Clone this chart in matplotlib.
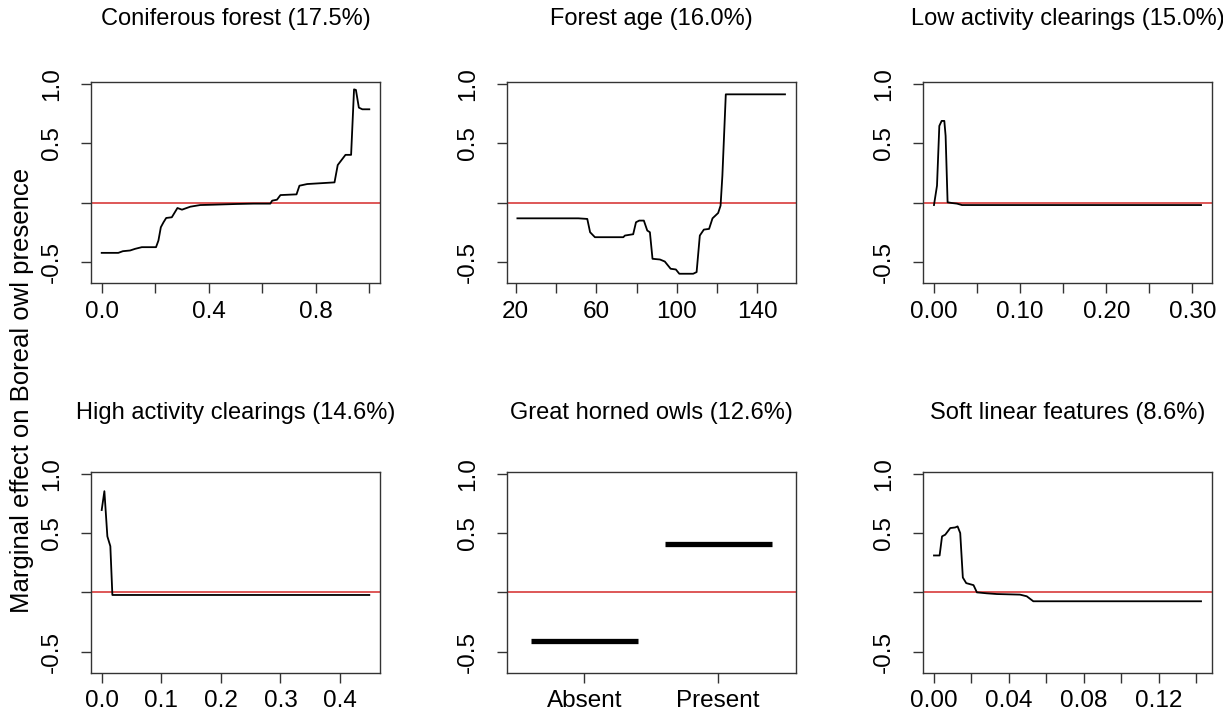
import matplotlib
matplotlib.use("Agg")
import matplotlib.pyplot as plt

# Partial dependence of Boreal owl presence on each predictor
titles = [
    "Coniferous forest (17.5%)",
    "Forest age (16.0%)",
    "Low activity clearings (15.0%)",
    "High activity clearings (14.6%)",
    "Great horned owls (12.6%)",
    "Soft linear features (8.6%)",
]

conif_x = [0.000, 0.062, 0.079, 0.106, 0.125, 0.150, 0.203, 0.212, 0.221, 0.231,
           0.241, 0.262, 0.283, 0.300, 0.331, 0.368, 0.418, 0.505, 0.568, 0.630,
           0.637, 0.655, 0.668, 0.728, 0.739, 0.768, 0.870, 0.882, 0.911, 0.932,
           0.943, 0.950, 0.961, 0.974, 1.000]
conif_y = [-0.423, -0.423, -0.409, -0.403, -0.389, -0.375, -0.375, -0.319, -0.207, -0.165,
           -0.129, -0.123, -0.045, -0.059, -0.034, -0.020, -0.017, -0.011, -0.008, -0.008,
           0.017, 0.025, 0.064, 0.070, 0.143, 0.157, 0.171, 0.317, 0.403, 0.403,
           0.955, 0.950, 0.801, 0.787, 0.787]

age_x = [20.8, 51.1, 55.5, 56.9, 59.3, 73.4, 74.2, 78.3, 79.7, 81.3,
         83.6, 85.3, 86.6, 87.9, 91.6, 94.0, 96.9, 99.5, 101.2, 108.1,
         109.8, 111.4, 113.4, 116.0, 117.7, 120.5, 121.7, 122.6, 124.3, 153.7]
age_y = [-0.132, -0.132, -0.137, -0.249, -0.291, -0.291, -0.277, -0.266, -0.165, -0.151,
         -0.151, -0.235, -0.249, -0.473, -0.479, -0.496, -0.557, -0.563, -0.599, -0.599,
         -0.585, -0.277, -0.227, -0.221, -0.132, -0.087, -0.025, 0.227, 0.913, 0.913]

low_x = [0.000, 0.0035, 0.0062, 0.0089, 0.0120, 0.0135, 0.0158, 0.0209, 0.0267, 0.0325, 0.310]
low_y = [-0.020, 0.143, 0.647, 0.689, 0.689, 0.563, 0.003, -0.003, -0.008, -0.020, -0.020]

high_x = [0.000, 0.0045, 0.0095, 0.0145, 0.0179, 0.449]
high_y = [0.694, 0.853, 0.472, 0.389, -0.022, -0.022]

owl_levels = ["Absent", "Present"]
owl_effect = [-0.41, 0.41]

soft_x = [0.000, 0.0030, 0.0043, 0.0060, 0.0087, 0.0113, 0.0126, 0.0140, 0.0154, 0.0172,
          0.0211, 0.0229, 0.0282, 0.0335, 0.0459, 0.0495, 0.0530, 0.1425]
soft_y = [0.311, 0.311, 0.472, 0.486, 0.542, 0.547, 0.556, 0.500, 0.125, 0.078,
          0.061, 0.000, -0.008, -0.014, -0.019, -0.033, -0.075, -0.075]

y_ticks = [-0.5, 0.0, 0.5, 1.0]
y_labels = ["-0.5", "", "0.5", "1.0"]

x_ticks = [
    [0.0, 0.2, 0.4, 0.6, 0.8, 1.0],
    [20, 40, 60, 80, 100, 120, 140],
    [0.00, 0.05, 0.10, 0.15, 0.20, 0.25, 0.30],
    [0.0, 0.1, 0.2, 0.3, 0.4],
    [1, 2],
    [0.00, 0.02, 0.04, 0.06, 0.08, 0.10, 0.12, 0.14],
]
x_labels = [
    ["0.0", "", "0.4", "", "0.8", ""],
    ["20", "", "60", "", "100", "", "140"],
    ["0.00", "", "0.10", "", "0.20", "", "0.30"],
    ["0.0", "0.1", "0.2", "0.3", "0.4"],
    owl_levels,
    ["0.00", "", "0.04", "", "0.08", "", "0.12", ""],
]

ylabel = "Marginal effect on Boreal owl presence"

W, H = 1223, 717
plt.rcParams["font.family"] = ["Liberation Sans", "DejaVu Sans"]
fig = plt.figure(figsize=(W / 100, H / 100), dpi=100)

col_left = [91, 506.7, 923.3]
col_width = [289, 289, 288.4]
row_top = [82, 471.7]
ax_h = 201
title_gap = [63, 59]

ylim = (-0.677, 1.017)


def pad_range(lo, hi):
    r = hi - lo
    return lo - 0.04 * r, hi + 0.04 * r


axes = []
for i in range(6):
    r, c = divmod(i, 3)
    ax = fig.add_axes([col_left[c] / W, 1 - (row_top[r] + ax_h) / H,
                       col_width[c] / W, ax_h / H])
    axes.append(ax)

curves = [(conif_x, conif_y), (age_x, age_y), (low_x, low_y),
          (high_x, high_y), None, (soft_x, soft_y)]

for i, ax in enumerate(axes):
    r = i // 3
    ax.axhline(0, color="#d42a2a", lw=1.1, zorder=1)
    if curves[i] is not None:
        xs, ys = curves[i]
        ax.plot(xs, ys, color="black", lw=1.3, zorder=2)
        ax.set_xlim(*pad_range(min(xs), max(xs)))
    else:
        for k, val in enumerate(owl_effect):
            pos = k + 1
            ax.plot([pos - 0.4, pos + 0.4], [val, val], color="black",
                    lw=3.8, solid_capstyle="butt", zorder=2)
        ax.set_xlim(*pad_range(0.5, 2.5))
    ax.set_ylim(*ylim)
    ax.set_yticks(y_ticks)
    ax.set_yticklabels(y_labels)
    ax.set_xticks(x_ticks[i])
    ax.set_xticklabels(x_labels[i])
    ax.tick_params(axis="both", length=7.2, width=1.0, color="#333333",
                   labelsize=17.5, labelcolor="black")
    ax.tick_params(axis="x", pad=5.5)
    ax.tick_params(axis="y", pad=13.0, labelrotation=90)
    for lab in ax.get_yticklabels():
        lab.set_verticalalignment("center")
    for sp in ax.spines.values():
        sp.set_color("#333333")
        sp.set_linewidth(1.0)
    ax.text(0.5, 1 + title_gap[r] / ax_h, titles[i], transform=ax.transAxes,
            ha="center", va="center", fontsize=17)

fig.text(22 / W, 1 - 390 / H, ylabel, rotation=90, ha="center", va="center",
         fontsize=18.5)

fig.savefig("out.png", dpi=100)
